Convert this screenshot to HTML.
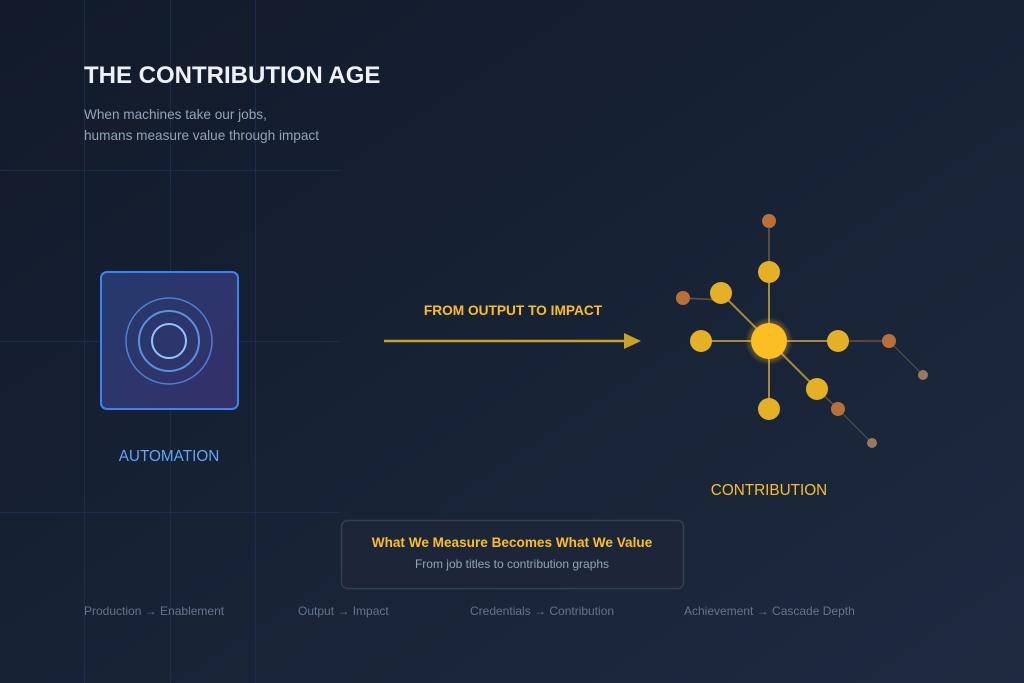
<!DOCTYPE html>
<html><head><meta charset="utf-8"><style>
html,body{margin:0;padding:0;background:#131a2b;}
svg{display:block;font-family:"Liberation Sans",sans-serif;}
</style></head><body>
<svg width="1024" height="683" viewBox="0 0 1024 683" xmlns="http://www.w3.org/2000/svg">
<defs>
<linearGradient id="bg" x1="0" y1="0" x2="1" y2="1">
<stop offset="0" stop-color="#121a2b"/><stop offset="1" stop-color="#1d2a3f"/>
</linearGradient>
<linearGradient id="box" x1="0" y1="0" x2="1" y2="1">
<stop offset="0" stop-color="#243a6e"/><stop offset="1" stop-color="#35306a"/>
</linearGradient>
<radialGradient id="glow"><stop offset="0.6" stop-color="#fbbf24" stop-opacity="0.5"/><stop offset="1" stop-color="#fbbf24" stop-opacity="0"/></radialGradient>
</defs>
<rect width="1024" height="683" fill="url(#bg)"/>
<g stroke="#1d3358" stroke-width="1" opacity="0.7">
<line x1="84.5" y1="0" x2="84.5" y2="683"/>
<line x1="170.5" y1="0" x2="170.5" y2="683"/>
<line x1="255.5" y1="0" x2="255.5" y2="683"/>
<line x1="0" y1="170.5" x2="341" y2="170.5"/>
<line x1="0" y1="341.5" x2="341" y2="341.5"/>
<line x1="0" y1="512.5" x2="341" y2="512.5"/>
</g>
<text x="84" y="83" fill="#eef2f8" font-size="24" font-weight="bold">THE CONTRIBUTION AGE</text>
<text x="84" y="119" fill="#94a3b8" font-size="13.6">When machines take our jobs,</text>
<text x="84" y="140" fill="#94a3b8" font-size="13.6">humans measure value through impact</text>

<rect x="101" y="272" width="137" height="137" rx="6" fill="url(#box)" stroke="#3b82f6" stroke-width="2"/>
<circle cx="169" cy="341" r="43" fill="none" stroke="#4f7fd0" stroke-width="1.5"/>
<circle cx="169" cy="341" r="30" fill="none" stroke="#5b92e0" stroke-width="2"/>
<circle cx="169" cy="341" r="17" fill="none" stroke="#93c5fd" stroke-width="2"/>
<text x="169" y="461" fill="#60a5fa" font-size="15.3" text-anchor="middle">AUTOMATION</text>

<text x="513" y="315" fill="#fbbf24" font-size="13.7" font-weight="bold" text-anchor="middle">FROM OUTPUT TO IMPACT</text>
<line x1="384" y1="341" x2="626" y2="341" stroke="#c9a02a" stroke-width="2.5"/>
<polygon points="624,333 641,341 624,349" fill="#c9a02a"/>

<g stroke-width="2">
<line x1="769" y1="341" x2="769" y2="272" stroke="#a68a3a"/>
<line x1="769" y1="341" x2="721" y2="293" stroke="#a68a3a"/>
<line x1="769" y1="341" x2="701" y2="341" stroke="#a68a3a"/>
<line x1="769" y1="341" x2="838" y2="341" stroke="#a68a3a"/>
<line x1="769" y1="341" x2="817" y2="389" stroke="#a68a3a"/>
<line x1="769" y1="341" x2="769" y2="409" stroke="#a68a3a"/>
<line x1="769" y1="272" x2="769" y2="221" stroke="#6b5a4a" stroke-width="1.5"/>
<line x1="721" y1="300" x2="683" y2="298" stroke="#6b5040" stroke-width="1.5"/>
<line x1="838" y1="341" x2="889" y2="341" stroke="#6b5040" stroke-width="1.5"/>
<line x1="889" y1="341" x2="923" y2="375" stroke="#55504a" stroke-width="1.2"/>
<line x1="817" y1="389" x2="838" y2="409" stroke="#6b5040" stroke-width="1.5"/>
<line x1="838" y1="409" x2="872" y2="443" stroke="#55504a" stroke-width="1.2"/>
</g>
<circle cx="769" cy="341" r="24" fill="url(#glow)"/>
<circle cx="769" cy="341" r="18" fill="#fbbf24"/>
<g fill="#e3b026">
<circle cx="769" cy="272" r="11"/><circle cx="721" cy="293" r="11"/>
<circle cx="701" cy="341" r="11"/><circle cx="838" cy="341" r="11"/>
<circle cx="817" cy="389" r="11"/><circle cx="769" cy="409" r="11"/>
</g>
<g fill="#b8703a">
<circle cx="769" cy="221" r="7"/><circle cx="683" cy="298" r="7"/>
<circle cx="889" cy="341" r="7"/><circle cx="838" cy="409" r="7"/>
</g>
<g fill="#957a5e">
<circle cx="923" cy="375" r="5"/><circle cx="872" cy="443" r="5"/>
</g>
<text x="769" y="495" fill="#fbbf24" font-size="15.3" text-anchor="middle">CONTRIBUTION</text>

<rect x="341.5" y="520.5" width="342" height="68" rx="6" fill="#1c2638" stroke="#334155" stroke-width="1.5"/>
<text x="512" y="547" fill="#fbbf24" font-size="13.6" font-weight="bold" text-anchor="middle">What We Measure Becomes What We Value</text>
<text x="512" y="568" fill="#94a3b8" font-size="12" text-anchor="middle">From job titles to contribution graphs</text>

<g fill="#64748b" font-size="12">
<text x="84" y="615">Production → Enablement</text>
<text x="298" y="615">Output → Impact</text>
<text x="470" y="615">Credentials → Contribution</text>
<text x="684" y="615">Achievement → Cascade Depth</text>
</g>
</svg>
</body></html>
